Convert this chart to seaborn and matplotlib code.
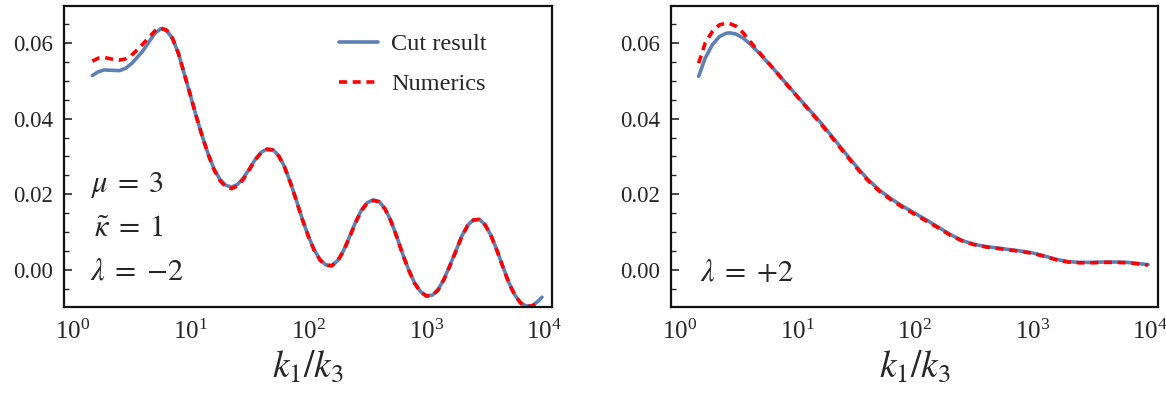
import numpy as np
import pandas as pd
import matplotlib
matplotlib.use("Agg")
import matplotlib.pyplot as plt
import seaborn as sns

# ---------------- data ----------------
# left panel (lambda = -2): log10(k1/k3) positions and values
left_logk = [0.17, 0.22, 0.27, 0.33, 0.40, 0.45, 0.50, 0.55, 0.60, 0.65, 0.70, 0.75,
             0.80, 0.85, 0.90, 0.95, 1.00, 1.05, 1.10, 1.15, 1.20, 1.25, 1.30, 1.35,
             1.40, 1.45, 1.50, 1.55, 1.60, 1.65, 1.70, 1.75, 1.80, 1.85, 1.90, 1.95,
             2.00, 2.05, 2.10, 2.15, 2.20, 2.25, 2.30, 2.35, 2.40, 2.45, 2.50, 2.55,
             2.60, 2.65, 2.70, 2.75, 2.80, 2.85, 2.90, 2.95, 3.00, 3.05, 3.10, 3.15,
             3.20, 3.25, 3.30, 3.35, 3.40, 3.45, 3.50, 3.55, 3.60, 3.65, 3.70, 3.75,
             3.80, 3.85, 3.90, 3.95, 3.98]
left_cut = [0.0514, 0.0524, 0.0529, 0.0528, 0.0527, 0.0533, 0.0545, 0.0562, 0.0580, 0.0603, 0.0626, 0.0638,
            0.0633, 0.0612, 0.0572, 0.0518, 0.0463, 0.0407, 0.0355, 0.0308, 0.0268, 0.0240, 0.0224, 0.0219,
            0.0226, 0.0243, 0.0267, 0.0292, 0.0311, 0.0320, 0.0318, 0.0302, 0.0272, 0.0230, 0.0183, 0.0134,
            0.0090, 0.0053, 0.0027, 0.0013, 0.0012, 0.0025, 0.0052, 0.0088, 0.0126, 0.0158, 0.0178, 0.0185,
            0.0181, 0.0162, 0.0130, 0.0088, 0.0042, 0.0001, -0.0034, -0.0057, -0.0068, -0.0067, -0.0052, -0.0024,
            0.0012, 0.0050, 0.0089, 0.0118, 0.0133, 0.0134, 0.0119, 0.0090, 0.0051, 0.0008, -0.0034, -0.0066,
            -0.0087, -0.0096, -0.0094, -0.0082, -0.0072]
left_num = [0.0552, 0.0560, 0.0562, 0.0558, 0.0555, 0.0558, 0.0567, 0.0582, 0.0598, 0.0615, 0.0632, 0.0640,
            0.0634, 0.0612, 0.0572, 0.0518, 0.0463, 0.0407, 0.0355, 0.0307, 0.0266, 0.0237, 0.0220, 0.0215,
            0.0222, 0.0240, 0.0265, 0.0291, 0.0310, 0.0319, 0.0317, 0.0301, 0.0271, 0.0229, 0.0182, 0.0133,
            0.0089, 0.0052, 0.0026, 0.0012, 0.0011, 0.0024, 0.0051, 0.0087, 0.0125, 0.0157, 0.0177, 0.0184,
            0.0180, 0.0161, 0.0129, 0.0087, 0.0041, 0.0000, -0.0035, -0.0058, -0.0069, -0.0068, -0.0053, -0.0025,
            0.0011, 0.0049, 0.0088, 0.0117, 0.0132, 0.0133, 0.0118, 0.0089, 0.0050, 0.0007, -0.0035, -0.0067,
            -0.0088, -0.0097, -0.0095, -0.0085, -0.0076]

# right panel (lambda = +2)
right_logk = [0.165, 0.22, 0.28, 0.34, 0.40, 0.43, 0.48, 0.54, 0.60, 0.68, 0.80, 0.90,
              1.00, 1.10, 1.20, 1.30, 1.40, 1.50, 1.60, 1.70, 1.80, 1.90, 2.00, 2.10,
              2.20, 2.30, 2.40, 2.50, 2.60, 2.70, 2.80, 2.90, 3.00, 3.10, 3.20, 3.30,
              3.40, 3.50, 3.60, 3.70, 3.80, 3.90, 3.98]
right_cut = [0.0512, 0.0560, 0.0595, 0.0617, 0.0626, 0.0627, 0.0624, 0.0614, 0.0598, 0.0573, 0.0532, 0.0496,
             0.0460, 0.0425, 0.0390, 0.0352, 0.0313, 0.0275, 0.0240, 0.0211, 0.0188, 0.0168, 0.0150, 0.0132,
             0.0113, 0.0094, 0.0078, 0.0068, 0.0062, 0.0058, 0.0054, 0.0050, 0.0045, 0.0037, 0.0028, 0.0022,
             0.0020, 0.0020, 0.0021, 0.0021, 0.0020, 0.0017, 0.0014]
right_num = [0.0547, 0.0600, 0.0630, 0.0648, 0.0653, 0.0651, 0.0645, 0.0628, 0.0605, 0.0575, 0.0532, 0.0495,
             0.0459, 0.0423, 0.0387, 0.0349, 0.0310, 0.0272, 0.0237, 0.0208, 0.0185, 0.0165, 0.0147, 0.0129,
             0.0111, 0.0092, 0.0077, 0.0067, 0.0061, 0.0057, 0.0053, 0.0049, 0.0044, 0.0036, 0.0027, 0.0021,
             0.0019, 0.0019, 0.0020, 0.0020, 0.0019, 0.0016, 0.0013]

series_labels = ["Cut result", "Numerics"]
left_params = [r"$\mu\;=\;3$", r"$\tilde{\kappa}\;=\;1$", r"$\lambda\;=\;{-}2$"]
right_params = [r"$\lambda\;=\;{+}2$"]
xtick_vals = [1, 10, 100, 1000, 10000]
xtick_labels = [r"$\mathregular{10^{0}}$", r"$\mathregular{10^{1}}$", r"$\mathregular{10^{2}}$",
                r"$\mathregular{10^{3}}$", r"$\mathregular{10^{4}}$"]
ytick_vals = [0.00, 0.02, 0.04, 0.06]
ytick_labels = ["0.00", "0.02", "0.04", "0.06"]

# ---------------- style ----------------
sns.set_style("white")
plt.rcParams["font.family"] = ["Liberation Serif", "DejaVu Serif"]
plt.rcParams["mathtext.fontset"] = "stix"

BLUE = "#5E81B5"
RED = "#FF0000"

fig = plt.figure(figsize=(11.66, 4.05), dpi=100)
W, H = 1166, 405
axL = fig.add_axes([64 / W, 1 - 307 / H, (552 - 64) / W, (307 - 6) / H])
axR = fig.add_axes([671 / W, 1 - 307 / H, (1158 - 671) / W, (307 - 6) / H])


def draw(ax, logk, cut, num, n_num=None):
    x = 10 ** np.asarray(logk, dtype=float)
    df_cut = pd.DataFrame({"x": x, "y": cut})
    if n_num is None:
        n_num = len(num)
    df_num = pd.DataFrame({"x": x[:n_num], "y": num[:n_num]})
    sns.lineplot(data=df_cut, x="x", y="y", ax=ax, color=BLUE, lw=2.6,
                 label=series_labels[0], estimator=None, sort=True)
    sns.lineplot(data=df_num, x="x", y="y", ax=ax, color=RED, lw=2.6,
                 label=series_labels[1], estimator=None, sort=True,
                 dashes=False, linestyle=(0, (2.2, 1.6)))
    ax.set_xscale("log")
    ax.set_xlim(10 ** -0.07, 10 ** 4.065)
    ax.set_ylim(-0.0098, 0.0698)
    ax.set_xticks(xtick_vals)
    ax.set_xticklabels(xtick_labels)
    ax.xaxis.set_minor_locator(matplotlib.ticker.NullLocator())
    ax.tick_params(axis="x", which="both", length=0, labelsize=18, pad=9)
    ax.set_yticks(ytick_vals)
    ax.set_yticklabels(ytick_labels)
    ax.yaxis.set_minor_locator(matplotlib.ticker.MultipleLocator(0.005))
    ax.tick_params(axis="y", which="major", direction="in", length=6, width=1.2,
                   labelsize=16.5, pad=8, left=True)
    ax.tick_params(axis="y", which="minor", direction="in", length=3.5, width=1.0, left=True)
    for s in ax.spines.values():
        s.set_visible(True)
        s.set_color("#111111")
        s.set_linewidth(1.6)
    ax.set_xlabel(r"$k_1/k_3$", fontsize=27, labelpad=4)
    ax.set_ylabel("")


draw(axL, left_logk, left_cut, left_num, n_num=len(left_logk) - 1)
draw(axR, right_logk, right_cut, right_num)

leg = axL.legend(loc="upper left", bbox_to_anchor=(322 / W, 1 - 16 / H),
                 bbox_transform=fig.transFigure, frameon=False, fontsize=17.5,
                 handlelength=1.6, handletextpad=0.55, labelspacing=0.75,
                 borderpad=0.2)
axR.get_legend().remove()

# parameter annotations
for txt, (px, py) in zip(left_params, [(90, 185), (94, 228), (90, 272)]):
    fig.text(px / W, 1 - py / H, txt, fontsize=22, ha="left", va="center")
for txt, (px, py) in zip(right_params, [(700, 273)]):
    fig.text(px / W, 1 - py / H, txt, fontsize=22, ha="left", va="center")

fig.savefig("out.png", dpi=100)
